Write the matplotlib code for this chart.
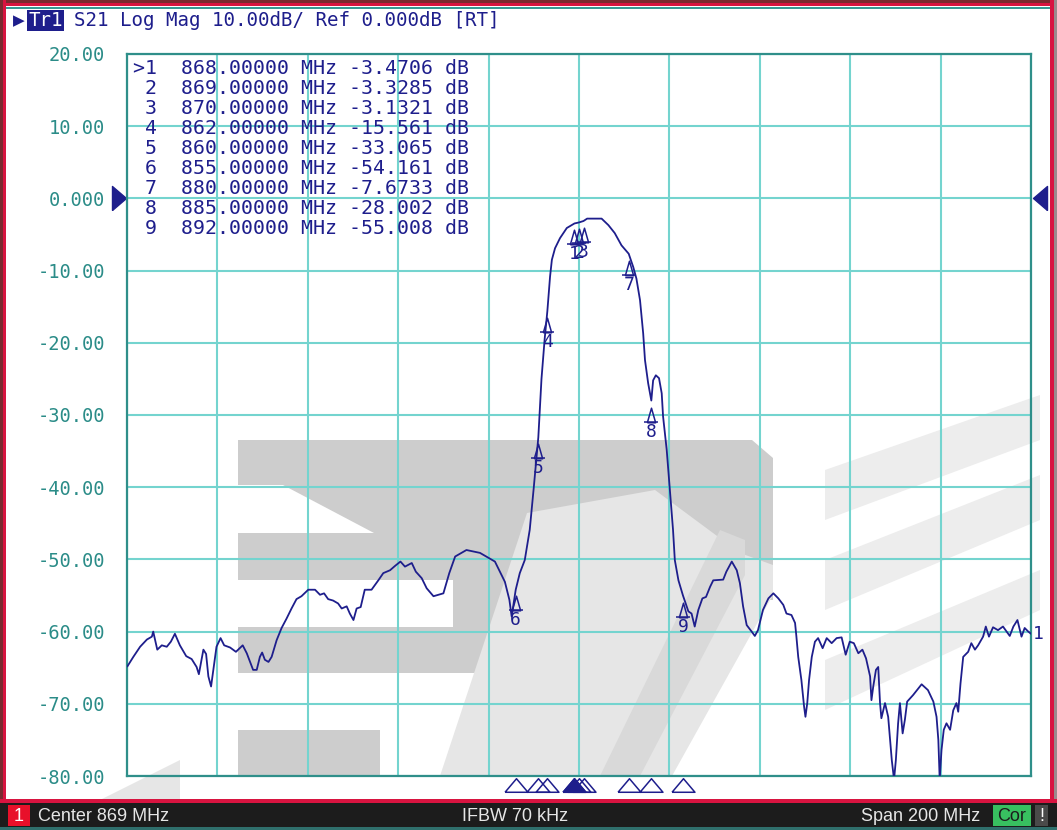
import matplotlib
matplotlib.use("Agg")
import matplotlib.pyplot as plt
from matplotlib.patches import Polygon, Rectangle
from matplotlib.transforms import blended_transform_factory, offset_copy

W, H = 1057, 830

# S21 trace (MHz, dB)
freq = [769.1, 770.4, 771.9, 773.4, 774.5, 774.8, 775.7, 776.7, 777.8, 778.7,
        779.6, 780.7, 782.1, 783.3, 784.4, 784.9, 785.9, 786.5, 787.0, 787.6,
        788.1, 788.8, 789.7, 790.5, 791.8, 793.1, 794.6, 795.5, 796.9, 797.7,
        798.4, 798.9, 799.5, 800.3, 801.0, 802.1, 803.2, 804.3, 805.4, 806.5,
        807.6, 809.1, 810.6, 811.7, 812.6, 813.5, 814.6, 815.7, 816.5, 817.6,
        818.3, 819.1, 819.8, 820.7, 821.6, 823.1, 824.6, 825.7, 827.2, 828.3,
        829.5, 830.5, 832.0, 832.9, 834.2, 835.3, 836.8, 839.0, 840.3, 841.6,
        844.1, 847.1, 850.4, 852.6, 853.6, 854.1, 855.0, 855.9, 857.0, 858.1,
        859.0, 860.0, 860.7, 861.4, 862.0, 862.6, 863.0, 863.7, 864.8, 866.3,
        868.0, 869.0, 870.0, 870.8, 874.0, 875.5, 876.9, 878.4, 880.0, 881.0,
        881.7, 882.5, 883.2, 883.6, 884.3, 885.0, 885.4, 886.0, 886.7, 887.3,
        887.6, 888.0, 888.4, 889.8, 890.2, 891.0, 892.0, 893.2, 893.9, 894.6,
        895.4, 896.3, 897.1, 898.0, 898.7, 900.9, 901.6, 902.8, 903.9, 904.6,
        905.3, 906.1, 907.2, 907.9, 908.6, 909.7, 910.9, 912.0, 913.1, 914.2,
        914.9, 916.0, 916.8, 917.1, 917.5, 918.2, 918.8, 919.1, 919.5, 919.9,
        920.5, 921.2, 921.9, 922.9, 923.8, 924.9, 926.0, 927.1, 928.0, 928.9,
        929.8, 930.8, 931.7, 932.5, 933.4, 933.7, 934.1, 934.7, 935.2, 935.6,
        935.9, 936.7, 937.4, 938.2, 938.7, 939.1, 939.6, 940.0, 940.6, 941.1,
        941.6, 942.9, 944.8, 946.2, 947.4, 948.1, 948.5, 948.8, 949.2, 949.7,
        950.3, 951.1, 951.8, 952.5, 952.9, 953.4, 954.0, 955.1, 955.8, 956.6,
        957.3, 958.4, 959.0, 959.7, 960.6, 961.7, 962.8, 963.6, 964.3, 965.1,
        966.0, 966.9, 967.6, 968.4, 969.0]
s21 = [-64.8, -63.5, -62.1, -61.1, -60.7, -60.0, -62.5, -61.9, -62.1, -61.4,
       -60.3, -61.9, -63.4, -63.8, -64.9, -65.9, -62.5, -63.1, -66.2, -67.6,
       -65.3, -62.1, -60.9, -61.9, -62.2, -62.8, -61.9, -63.0, -65.3, -65.3,
       -63.5, -62.9, -63.9, -64.2, -63.5, -61.2, -59.5, -58.2, -56.8, -55.5,
       -55.1, -54.2, -54.2, -54.9, -54.7, -55.5, -55.7, -56.1, -56.8, -56.5,
       -57.5, -58.4, -56.8, -56.6, -54.2, -54.2, -52.9, -51.9, -51.5, -50.9,
       -50.3, -51.0, -50.5, -51.7, -52.6, -54.0, -55.1, -54.7, -51.9, -49.6,
       -48.7, -49.1, -50.3, -53.1, -55.6, -57.9, -54.2, -51.9, -50.1, -45.9,
       -40.0, -33.1, -25.0, -19.5, -15.6, -10.8, -8.5, -6.9, -5.5, -4.1,
       -3.47, -3.33, -3.13, -2.8, -2.8, -3.7, -4.8, -6.5, -7.67, -9.5,
       -11.1, -14.1, -18.7, -22.4, -25.6, -28.0, -25.2, -24.5, -24.9, -27.0,
       -30.2, -32.5, -34.8, -45.9, -50.1, -52.9, -55.0, -57.2, -57.5, -59.3,
       -57.0, -55.4, -55.2, -53.8, -52.9, -52.8, -51.7, -50.3, -51.5, -53.3,
       -56.5, -59.1, -60.0, -60.6, -59.8, -57.0, -55.4, -54.7, -55.4, -56.3,
       -57.5, -57.7, -58.8, -60.7, -63.5, -66.7, -70.4, -71.8, -69.9, -66.7,
       -63.5, -61.4, -60.9, -62.3, -60.9, -61.6, -60.9, -60.8, -63.2, -61.4,
       -61.6, -63.0, -62.5, -63.7, -66.2, -69.5, -67.6, -65.3, -64.9, -69.9,
       -72.0, -69.9, -71.8, -77.8, -80.5, -77.8, -72.7, -69.9, -74.1, -72.2,
       -69.7, -68.8, -67.3, -68.1, -69.7, -71.8, -75.0, -80.5, -76.4, -73.6,
       -72.7, -73.6, -70.9, -69.9, -71.1, -67.2, -63.5, -62.8, -61.6, -62.5,
       -61.9, -60.7, -59.3, -60.7, -59.4, -59.8, -59.3, -60.0, -60.6, -59.3,
       -58.4, -60.7, -59.5, -60.0, -60.3]

mk_num = [1, 2, 3, 4, 5, 6, 7, 8, 9]
mk_freq = [868, 869, 870, 862, 860, 855, 880, 885, 892]
mk_db = [-3.4706, -3.3285, -3.1321, -15.561, -33.065, -54.161, -7.6733, -28.002, -55.008]

yticks = [20, 10, 0, -10, -20, -30, -40, -50, -60, -70, -80]
ylabels = ["20.00", "10.00", "0.000", "-10.00", "-20.00", "-30.00",
           "-40.00", "-50.00", "-60.00", "-70.00", "-80.00"]

center, span = 869, 200

navy = "#1e1e8c"
teal_txt = "#2b8c88"
mono = "DejaVu Sans Mono"


def fx(x):
    return x / W


def fy(y):
    return 1 - y / H


def poly(pts, color, z=-2):
    fig.add_artist(Polygon([(fx(x), fy(y)) for x, y in pts], closed=True,
                           transform=fig.transFigure, facecolor=color,
                           edgecolor="none", zorder=z))


def rect(x0, y0, x1, y1, color, z=5):
    fig.add_artist(Rectangle((fx(x0), fy(y1)), (x1 - x0) / W, (y1 - y0) / H,
                             transform=fig.transFigure, facecolor=color,
                             edgecolor="none", zorder=z))


fig = plt.figure(figsize=(W / 100, H / 100), dpi=100)
fig.patch.set_facecolor("white")

# watermark logo behind the grid
dark, light = "#cdcdcd", "#e6e6e6"
poly([(238, 440), (752, 440), (773, 458), (773, 600), (745, 600), (745, 485), (238, 485)], dark)
poly([(283, 485), (745, 485), (745, 600), (490, 600), (490, 580), (374, 533)], dark)
poly([(238, 533), (500, 533), (500, 580), (238, 580)], dark)
poly([(238, 627), (490, 627), (490, 673), (238, 673)], dark)
poly([(453, 580), (500, 580), (500, 627), (453, 627)], dark)
poly([(238, 730), (380, 730), (380, 776), (238, 776)], dark)
poly([(440, 776), (672, 776), (773, 595), (773, 565), (740, 553), (655, 490), (527, 513)], light, -1.5)
poly([(600, 776), (640, 776), (745, 575), (745, 540), (720, 530)], "#d9d9d9", -1.4)
poly([(100, 800), (180, 800), (180, 760)], light)
poly([(825, 470), (1040, 395), (1040, 440), (825, 520)], "#ededed")
poly([(825, 560), (1040, 475), (1040, 520), (825, 610)], "#ededed")
poly([(825, 660), (1040, 570), (1040, 610), (825, 710)], "#ededed")

ax = fig.add_axes([fx(127), fy(776), 904 / W, 722 / H])
ax.set_facecolor("none")
ax.set_xlim(center - span / 2, center + span / 2)
ax.set_ylim(-80, 20)
ax.set_xticks([center - span / 2 + 20 * i for i in range(11)])
ax.set_xticklabels([])
ax.set_yticks(yticks)
ax.set_yticklabels(ylabels, family=mono, fontsize=13.5, color=teal_txt)
ax.tick_params(length=0, pad=16)
ax.grid(True, color="#74d4cf", lw=1.5, zorder=1)
ax.set_axisbelow(True)
for s in ax.spines.values():
    s.set_color("#2f8f8a")
    s.set_linewidth(1.6)

ax.plot(freq, s21, color=navy, lw=1.3, zorder=3)

# markers on the trace (closed triangles with a base line)
tri = [(-4, -7), (4, -7), (0, 7), (-4, -7)]
ax.plot(mk_freq, mk_db, ls="none", marker=tri, ms=10.5, mfc="none", mec=navy, mew=1.1,
        transform=offset_copy(ax.transData, fig=fig, x=0, y=-14, units="dots"), zorder=4)
base = [(-6, 0), (6, 0)]
ax.plot(mk_freq, mk_db, ls="none", marker=base, ms=10.5, mec=navy, mew=1.1,
        transform=offset_copy(ax.transData, fig=fig, x=0, y=-21, units="dots"), zorder=4)
lab_tr = offset_copy(ax.transData, fig=fig, x=0, y=-31, units="dots")
for n, f, v in zip(mk_num, mk_freq, mk_db):
    ax.text(f, v, str(n), transform=lab_tr, ha="center", va="center",
            family=mono, fontsize=13, color=navy, zorder=4)

# marker indicators under the x axis
bl = blended_transform_factory(ax.transData, ax.transAxes)
btri = [(-11, -6.5), (11, -6.5), (0, 6.5), (-11, -6.5)]
ax.plot(mk_freq, [-0.0118] * len(mk_freq), ls="none", marker=btri, ms=16.5,
        mfc="none", mec=navy, mew=1.1, transform=bl, clip_on=False)
ax.plot(mk_freq[:1], [-0.0118], ls="none", marker=btri, ms=16.5,
        mfc=navy, mec=navy, mew=1.1, transform=bl, clip_on=False)

# reference level arrows at 0 dB
rl = blended_transform_factory(ax.transAxes, ax.transData)
ax.plot([-0.0088], [0], marker=[(-7, -12), (-7, 12), (7, 0), (-7, -12)], ms=17.3, color=navy,
        transform=rl, clip_on=False)
ax.plot([1.0100], [0], marker=[(7, -12), (7, 12), (-7, 0), (7, -12)], ms=17.3, color=navy,
        transform=rl, clip_on=False)

# trace number at right end
ax.text(freq[-1], s21[-1], "1", transform=offset_copy(ax.transData, fig=fig, x=2, y=0, units="dots"),
        ha="left", va="center", family=mono, fontsize=13, color=navy, clip_on=False)

# marker table
for i, (n, f, v) in enumerate(zip(mk_num, mk_freq, mk_db)):
    lab = ">1" if n == 1 else f" {n}"
    fig.text(fx(133), fy(69 + 20 * i), f"{lab}  {f:9.5f} MHz {v:.5g} dB",
             family=mono, fontsize=14.3, color=navy, va="center", ha="left")

# title line
fig.text(fx(13), fy(21), "\u25b6", fontsize=11, color=navy, va="center", ha="left")
rect(27, 10, 64, 31, navy, z=5)
fig.text(fx(45.5), fy(21), "Tr1", family=mono, fontsize=13.8, color="white",
         va="center", ha="center", zorder=6)
fig.text(fx(74), fy(21), "S21 Log Mag 10.00dB/ Ref 0.000dB [RT]", family=mono,
         fontsize=13.8, color=navy, va="center", ha="left")

# outer frame
rect(0, 0, W, 3, "#7a2a30", z=6)
rect(0, 3, W, 6, "#d81440", z=6)
rect(0, 0, 3, H, "#7a2a30", z=6)
rect(3, 0, 6, 802, "#d81440", z=6)
rect(1054, 0, W, H, "#9a8a8c", z=6)
rect(1050, 0, 1054, 802, "#d81440", z=6)
rect(6, 7, 1050, 9, "#3a9a96", z=6)

# status bar
sb = ["Liberation Sans", "DejaVu Sans"]
rect(0, 799, W, 803, "#d81440", z=6)
rect(0, 803, W, 830, "#1c1c1c", z=6)
rect(0, 827, W, 830, "#2f6f6c", z=7)
rect(8, 805, 30, 826, "#e8102a", z=7)
fig.text(fx(19), fy(816), "1", family=sb, fontsize=13, color="white", ha="center", va="center", zorder=8)
fig.text(fx(38), fy(816), "Center 869 MHz", family=sb, fontsize=13, color="#e6e6e6", ha="left", va="center", zorder=8)
fig.text(fx(515), fy(816), "IFBW 70 kHz", family=sb, fontsize=13, color="#e6e6e6", ha="center", va="center", zorder=8)
fig.text(fx(980), fy(816), "Span 200 MHz", family=sb, fontsize=13, color="#e6e6e6", ha="right", va="center", zorder=8)
rect(993, 805, 1031, 826, "#38c060", z=7)
fig.text(fx(1012), fy(816), "Cor", family=sb, fontsize=13, color="#1c1c1c", ha="center", va="center", zorder=8)
rect(1035, 805, 1048, 826, "#4a4a4a", z=7)
fig.text(fx(1041.5), fy(816), "!", family=sb, fontsize=13, color="white", ha="center", va="center", zorder=8)

fig.savefig("out.png", dpi=100)
